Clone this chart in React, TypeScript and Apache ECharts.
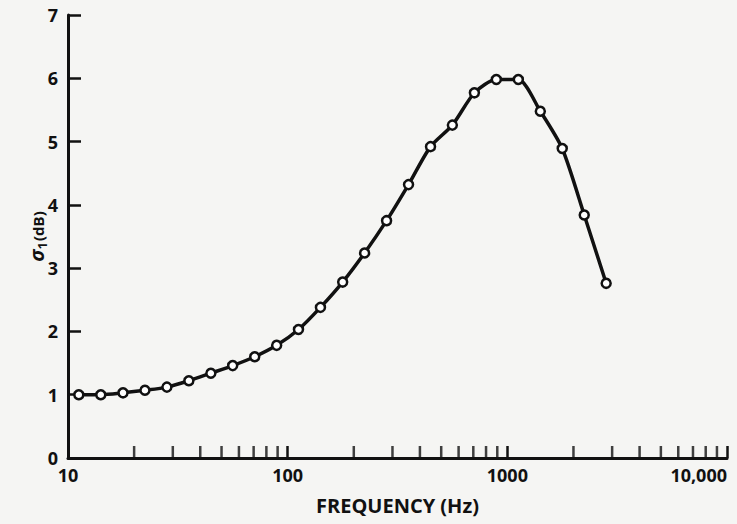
import React, { useEffect, useRef } from "react";
import * as echarts from "echarts";

// Measured σ1 (dB) against frequency (Hz)
const frequencies = [
  11.2, 14.1, 17.8, 22.4, 28.2, 35.5, 44.7, 56.2, 70.8, 89.1, 112, 141, 178,
  224, 282, 355, 447, 562, 708, 891, 1122, 1413, 1778, 2239, 2818,
];
const sigmaDb = [
  1.0, 1.0, 1.03, 1.07, 1.12, 1.22, 1.34, 1.46, 1.6, 1.78, 2.03, 2.38, 2.78,
  3.24, 3.75, 4.32, 4.92, 5.26, 5.77, 5.98, 5.98, 5.48, 4.89, 3.84, 2.76,
];

// Intermediate (2..9 per decade) tick positions on the log frequency axis
const minorTickFreqs = [
  20, 30, 40, 50, 60, 70, 80, 90, 200, 300, 400, 500, 600, 700, 800, 900,
  2000, 3000, 4000, 5000, 6000, 7000, 8000, 9000,
];

const yTicks = { min: 0, max: 7, interval: 1 };
const xRange = { min: 10, max: 10000 };

const INK = "#111111";
const FONT = "'Open Sans', 'DejaVu Sans', sans-serif";

export default function App() {
  const ref = useRef<HTMLDivElement>(null);

  useEffect(() => {
    document.body.style.margin = "0";
    if (!ref.current) return;
    const chart = echarts.init(ref.current, null, { renderer: "svg" });

    chart.setOption({
      animation: false,
      backgroundColor: "#f5f5f3",
      grid: { left: 68, right: 10, top: 15, bottom: 66, containLabel: false },
      xAxis: {
        type: "log",
        logBase: 10,
        min: xRange.min,
        max: xRange.max,
        name: "FREQUENCY (Hz)",
        nameLocation: "middle",
        nameGap: 37,
        nameMoveOverlap: false,
        nameTextStyle: { color: INK, fontFamily: FONT, fontWeight: 700, fontSize: 20 },
        axisLine: { show: true, lineStyle: { color: INK, width: 3 } },
        axisTick: { show: true, inside: true, length: 12, lineStyle: { color: INK, width: 2.5 } },
        minorTick: { show: false },
        splitLine: { show: false },
        axisLabel: {
          color: INK,
          fontFamily: FONT,
          fontWeight: 700,
          fontSize: 18,
          margin: 8,
          alignMaxLabel: "right",
          formatter: (v: number) => (v >= 10000 ? "10,000" : String(Math.round(v))),
        },
      },
      yAxis: {
        type: "value",
        min: yTicks.min,
        max: yTicks.max,
        interval: yTicks.interval,
        name: "{s|σ}{sub|1}{u|(dB)}",
        nameLocation: "middle",
        nameRotate: 90,
        nameGap: 20,
        nameMoveOverlap: false,
        nameTextStyle: {
          color: INK,
          fontFamily: FONT,
          rich: {
            s: { fontSize: 20, fontWeight: 700, fontStyle: "italic", color: INK, fontFamily: FONT, lineHeight: 24 },
            sub: { fontSize: 13, fontWeight: 700, color: INK, fontFamily: FONT, verticalAlign: "bottom", lineHeight: 24, padding: [10, 1, 0, 0] },
            u: { fontSize: 15, fontWeight: 700, color: INK, fontFamily: FONT, lineHeight: 24, padding: [4, 0, 0, 0] },
          },
        },
        axisLine: { show: true, lineStyle: { color: INK, width: 3 } },
        axisTick: { show: true, inside: true, length: 13, lineStyle: { color: INK, width: 2.5 } },
        splitLine: { show: false },
        axisLabel: { color: INK, fontFamily: FONT, fontWeight: 700, fontSize: 18, margin: 10 },
      },
      series: [
        {
          type: "scatter",
          data: minorTickFreqs.map((f) => [f, 0]),
          symbol: "rect",
          symbolSize: [2.5, 12],
          symbolOffset: [0, -6],
          itemStyle: { color: INK },
          silent: true,
          z: 1,
        },
        {
          type: "line",
          data: frequencies.map((f, i) => [f, sigmaDb[i]]),
          smooth: 0.25,
          symbol: "circle",
          symbolSize: 9,
          showAllSymbol: true,
          lineStyle: { color: INK, width: 3.5 },
          itemStyle: { color: "#ffffff", borderColor: INK, borderWidth: 2.5 },
          z: 3,
        },
      ],
    });

    return () => chart.dispose();
  }, []);

  return <div ref={ref} style={{ width: 737, height: 524 }} />;
}
